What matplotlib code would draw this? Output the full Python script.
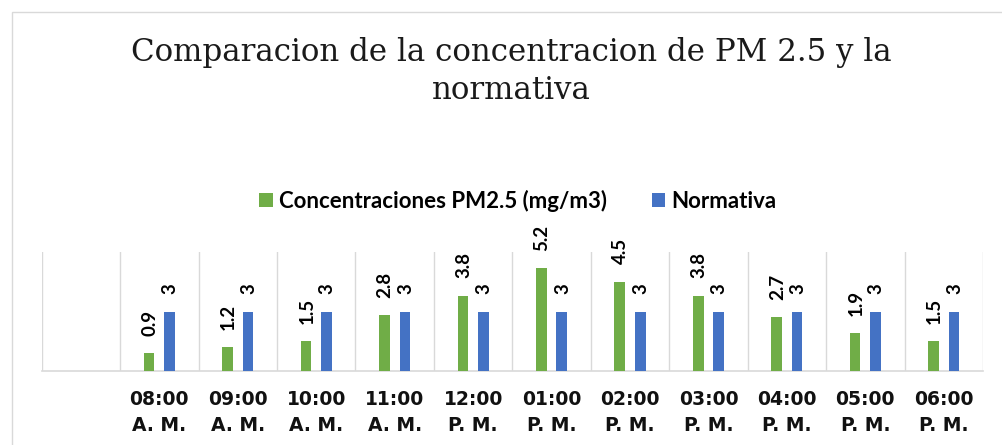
import numpy as np
import matplotlib
matplotlib.use("Agg")
import matplotlib.pyplot as plt
from matplotlib.patches import Rectangle, Patch

categories = ["", "08:00\nA. M.", "09:00\nA. M.", "10:00\nA. M.", "11:00\nA. M.",
              "12:00\nP. M.", "01:00\nP. M.", "02:00\nP. M.", "03:00\nP. M.",
              "04:00\nP. M.", "05:00\nP. M.", "06:00\nP. M."]
pm25 = [np.nan, 0.9, 1.2, 1.5, 2.8, 3.8, 5.2, 4.5, 3.8, 2.7, 1.9, 1.5]
normativa = [np.nan, 3, 3, 3, 3, 3, 3, 3, 3, 3, 3, 3]
series_names = ["Concentraciones PM2.5 (mg/m3)", "Normativa"]
title = "Comparacion de la concentracion de PM 2.5 y la\nnormativa"

GREEN = "#70AD47"
BLUE = "#4472C4"
LABEL_FONT = ["Lato", "DejaVu Sans"]

W, H = 1002, 445
fig = plt.figure(figsize=(W / 100, H / 100), dpi=100)
fig.patch.set_facecolor("white")

# chart border
fig.patches.append(Rectangle((12 / W, -0.1), 1.2, (H - 12) / H + 0.1,
                             transform=fig.transFigure, fill=False,
                             edgecolor="#D9D9D9", linewidth=1.0))

left, right, top, bottom = 41.7, 983.0, 252.0, 371.0
ax = fig.add_axes([left / W, 1 - bottom / H, (right - left) / W, (bottom - top) / H])

x = np.arange(len(categories))
bw = 0.136
off = 0.13
b1 = ax.bar(x - off, pm25, bw, color=GREEN, zorder=3)
b2 = ax.bar(x + off, normativa, bw, color=BLUE, zorder=3)

for bars, vals in ((b1, pm25), (b2, normativa)):
    for rect, v in zip(bars, vals):
        if np.isnan(v):
            continue
        txt = f"{v:g}"
        ax.annotate(txt, (rect.get_x() + rect.get_width() / 2, v),
                    xytext=(0.5, 12.5), textcoords="offset points",
                    ha="center", va="bottom", rotation=90,
                    fontsize=13.5, fontweight="bold", family=LABEL_FONT,
                    color="#000000")

ax.set_xlim(-0.5, len(categories) - 0.5)
ax.set_ylim(0, 6)
ax.set_yticks([])
ax.set_xticks(x)
ax.set_xticklabels(categories, fontsize=13.5, fontweight="bold",
                   family=["DejaVu Sans"], linespacing=1.42, color="#111111")
ax.tick_params(axis="x", length=0, pad=14)
ax.set_xticks(np.arange(-0.5, len(categories), 1.0), minor=True)
ax.tick_params(axis="x", which="minor", length=0)
ax.grid(True, which="minor", axis="x", color="#D9D9D9", linewidth=1.0, zorder=0)
ax.grid(False, which="major")
for s in ("top", "right", "left"):
    ax.spines[s].set_visible(False)
ax.spines["bottom"].set_color("#D9D9D9")
ax.spines["bottom"].set_linewidth(1.2)
ax.set_facecolor("none")

fig.text(511 / W, 1 - 37 / H, title, ha="center", va="top",
         fontsize=22.2, family=["DejaVu Serif"], fontweight="light",
         linespacing=1.3, color="#1a1a1a")

handles = [Patch(facecolor=GREEN), Patch(facecolor=BLUE)]
fig.legend(handles, series_names, loc="center", bbox_to_anchor=(518 / W, 1 - 201 / H),
           ncol=2, frameon=False, handlelength=0.6, handleheight=0.6,
           handletextpad=0.3, columnspacing=2.0,
           prop={"family": LABEL_FONT, "weight": "bold", "size": 16})

fig.savefig("out.png", dpi=100)
